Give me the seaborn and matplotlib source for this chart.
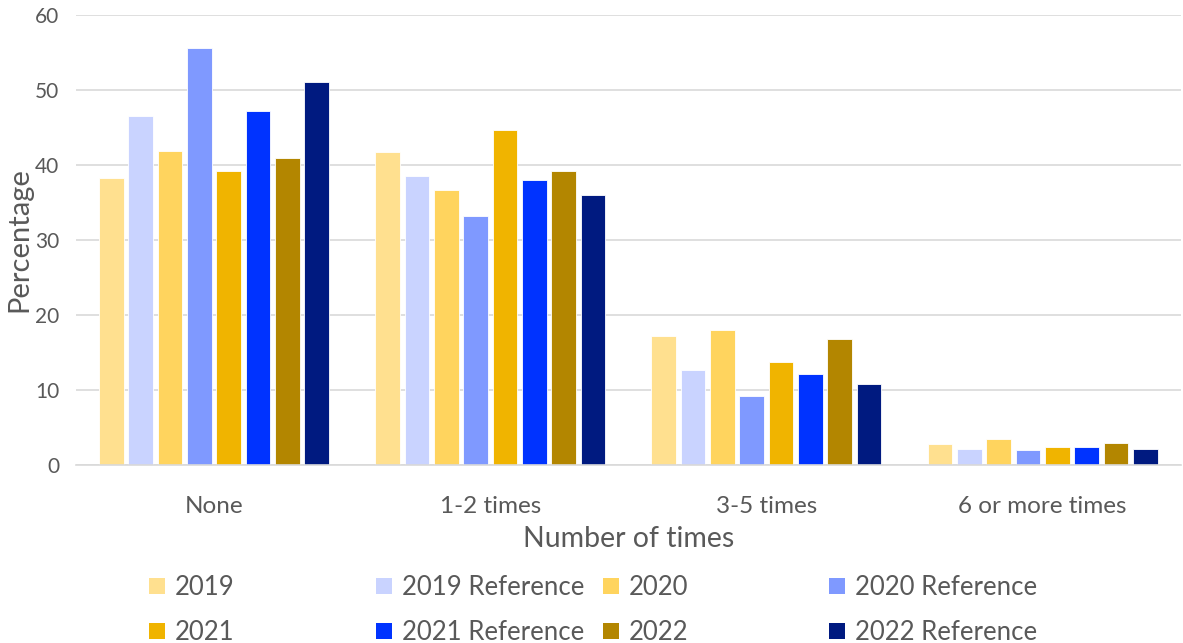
import matplotlib
matplotlib.use("Agg")
import matplotlib.pyplot as plt
from matplotlib.patches import Patch
import seaborn as sns
import pandas as pd

categories = ["None", "1-2 times", "3-5 times", "6 or more times"]
series = ["2019", "2019 Reference", "2020", "2020 Reference",
          "2021", "2021 Reference", "2022", "2022 Reference"]
v2019 = [38.3, 41.7, 17.2, 2.8]
v2019_ref = [46.5, 38.6, 12.7, 2.2]
v2020 = [41.9, 36.7, 18.0, 3.5]
v2020_ref = [55.6, 33.2, 9.2, 2.0]
v2021 = [39.2, 44.7, 13.7, 2.4]
v2021_ref = [47.2, 38.0, 12.2, 2.4]
v2022 = [40.9, 39.2, 16.8, 2.9]
v2022_ref = [51.1, 36.0, 10.8, 2.1]
colors = ["#FFE08F", "#C9D3FF", "#FFD45E", "#7F99FF",
          "#F0B400", "#0033FF", "#B38600", "#001A80"]

values = [v2019, v2019_ref, v2020, v2020_ref, v2021, v2021_ref, v2022, v2022_ref]
rows = []
for s, vals in zip(series, values):
    for c, v in zip(categories, vals):
        rows.append({"Number of times": c, "Percentage": v, "Series": s})
df = pd.DataFrame(rows)

sns.set_theme(style="white")
plt.rcParams["font.family"] = ["Lato", "DejaVu Sans"]
txt = "#595959"

W, H = 1183, 643
fig = plt.figure(figsize=(W / 100, H / 100), dpi=100)
ax = fig.add_axes([76 / W, 1 - 465 / H, 1 - 76 / W - 0.002, 450 / H])

pal = dict(zip(series, colors))
sns.barplot(data=df, x="Number of times", y="Percentage", hue="Series",
            order=categories, hue_order=series, palette=pal, saturation=1,
            width=0.85, gap=0.16, edgecolor="white", linewidth=0.6,
            legend=False, ax=ax)

ax.set_ylim(0, 60)
ax.set_xlim(-0.5, 3.5)
ax.set_yticks(range(0, 61, 10))
ax.yaxis.grid(True, color="#D9D9D9", linewidth=1.2)
ax.set_axisbelow(True)
for side in ["top", "right", "left"]:
    ax.spines[side].set_visible(False)
ax.spines["bottom"].set_color("#D9D9D9")
ax.spines["bottom"].set_linewidth(1.2)
ax.tick_params(axis="y", length=0, colors=txt, labelsize=15, pad=12)
ax.tick_params(axis="x", length=0, colors=txt, labelsize=17.5, pad=22)
ax.set_ylabel("Percentage", fontsize=21, color=txt, labelpad=2)
ax.set_xlabel("Number of times", fontsize=20.5, color=txt, labelpad=7)

# legend: four columns, two rows, laid out like the reference
col_x = [149, 376, 603, 829]
fs = 18.5
for j, x in enumerate(col_x):
    hs = [Patch(facecolor=pal[series[j]], edgecolor="none"),
          Patch(facecolor=pal[series[j + 4]], edgecolor="none")]
    leg = fig.legend(hs, [series[j], series[j + 4]], loc="upper left",
                     bbox_to_anchor=(x / W, 1 - 575 / H), frameon=False,
                     fontsize=fs, handlelength=0.62, handleheight=0.62,
                     handletextpad=0.4, labelspacing=0.78, borderpad=0,
                     borderaxespad=0)
    for t in leg.get_texts():
        t.set_color(txt)

fig.savefig("out.png", dpi=100)
